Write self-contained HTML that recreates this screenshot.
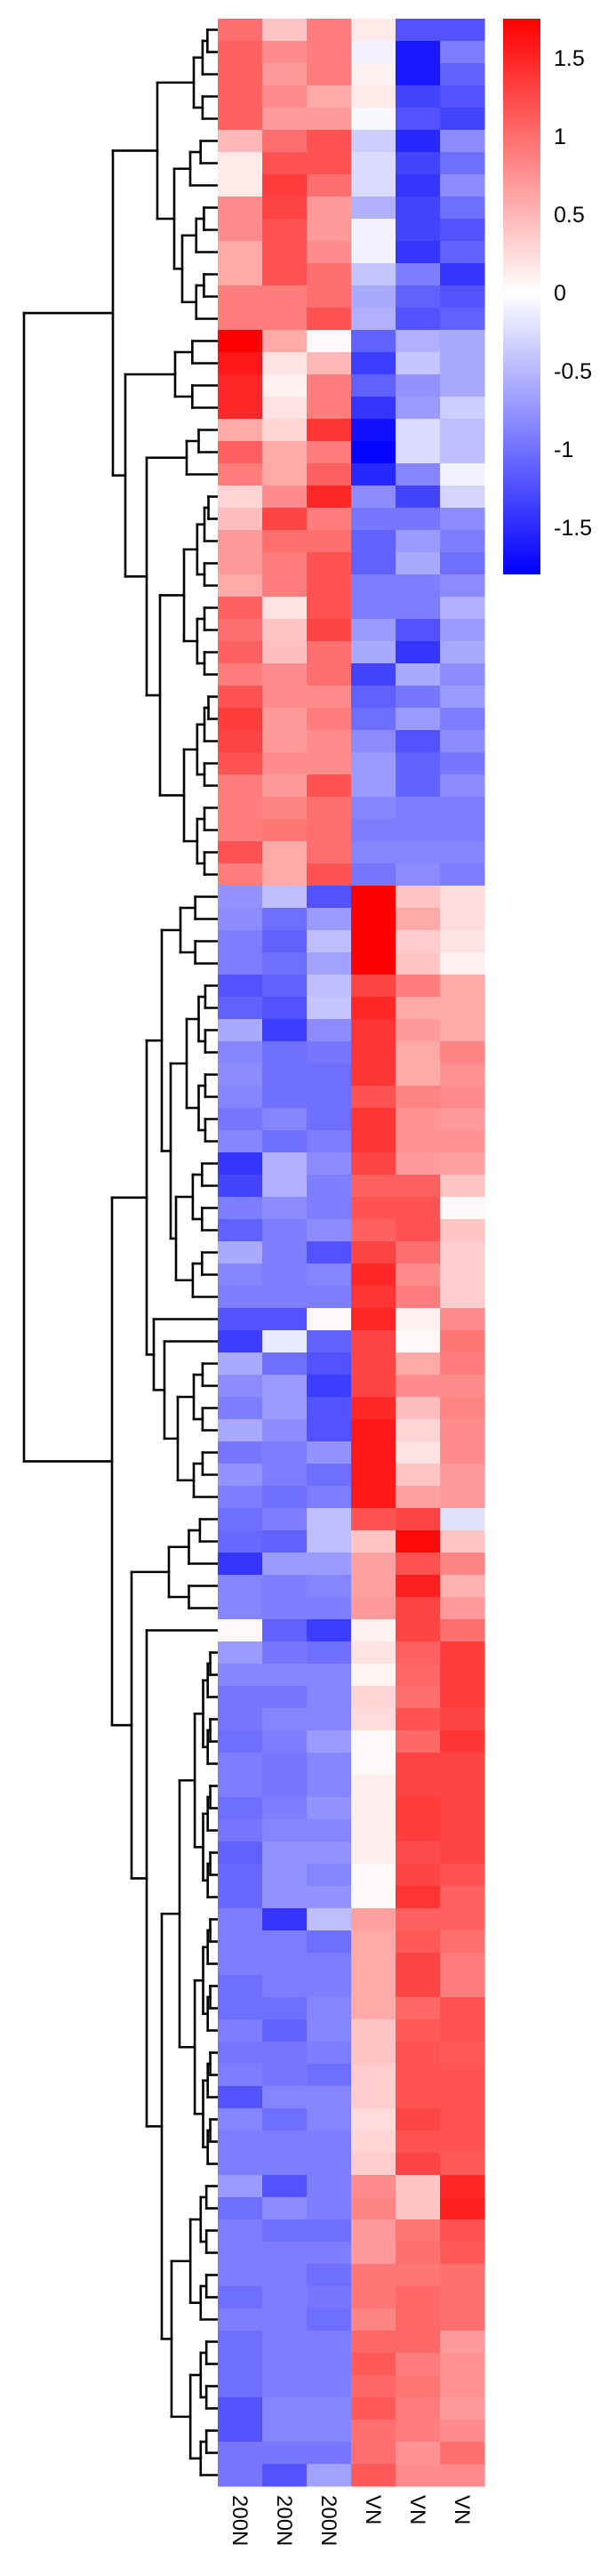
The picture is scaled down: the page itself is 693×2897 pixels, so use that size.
<!DOCTYPE html>
<html><head><meta charset="utf-8"><style>
html,body{margin:0;padding:0;background:#fff;}
svg{display:block;font-family:"Liberation Sans",sans-serif;}
</style></head><body>
<svg id="chart" width="693" height="2897" viewBox="0 0 693 2897" xmlns="http://www.w3.org/2000/svg">
<defs><linearGradient id="cbg" x1="0" y1="0" x2="0" y2="1">
<stop offset="0" stop-color="rgb(255,0,0)"/>
<stop offset="0.493" stop-color="#fff"/>
<stop offset="1" stop-color="rgb(0,0,255)"/>
</linearGradient></defs>
<g id="dendro"></g>
<g id="cells"></g>
<g id="collabels"></g>
<g id="legend"></g>
</svg>
<script>
const columns = ["200N","200N","200N","VN","VN","VN"];
const colA1 = [1.0,1.1,1.1,1.1,1.1,0.5,0.15,0.15,0.8,0.8,0.6,0.6,0.9,0.9,1.77,1.6,1.5,1.5,0.6,1.1,0.9,0.3,0.45,0.7,0.7,0.6,1.1,1.0,1.1,0.9,1.2,1.35,1.3,1.2,0.9,0.9,0.9,1.2,0.9,
-0.75,-0.8,-0.9,-0.9,-1.2,-1.1,-0.6,-0.85,-0.8,-0.85,-0.95,-0.85,-1.4,-1.3,-0.9,-1.1,-0.6,-0.85,-0.9,-1.2,-1.35,-0.6,-0.8,-0.9,
-0.6,-0.95,-0.75,-0.9,-1.0,-1.05,-1.4,-0.85,-0.85,0.05,-0.7,-0.85,-0.95,-0.95,-1.0,-0.9,-0.9,-1.0,-0.95,-1.1,-1.05,-1.05,-0.9,-0.9,
-0.9,-1.0,-1.0,-0.9,-0.95,-0.9,-1.2,-0.85,-0.9,-0.9,-0.7,-1.0,-0.9,-0.9,-0.9,-1.0,-0.9,-1.0,-1.0,-1.0,-1.2,-1.2,-0.95,-0.95];
const colA2 = [0.4,0.8,0.7,0.8,0.7,1.0,1.2,1.35,1.3,1.2,1.2,1.2,0.9,0.9,0.6,0.2,0.1,0.2,0.3,0.6,0.6,0.8,1.3,1.0,0.9,0.9,0.2,0.4,0.45,0.8,0.8,0.7,0.7,0.8,0.7,0.85,0.95,0.6,0.6,
-0.45,-1.0,-1.1,-1.0,-1.1,-1.2,-1.35,-1.0,-1.0,-1.0,-0.85,-1.0,-0.55,-0.55,-0.8,-0.9,-0.9,-0.9,-0.9,-1.2,-0.15,-1.0,-0.7,-0.7,
-0.8,-0.9,-0.9,-1.0,-0.9,-1.1,-0.7,-0.9,-0.9,-1.1,-0.95,-0.85,-0.95,-0.85,-0.9,-0.95,-0.95,-0.9,-0.85,-0.75,-0.75,-0.75,-1.4,-0.9,
-0.9,-0.9,-1.0,-1.1,-0.95,-0.95,-0.85,-1.0,-0.9,-0.9,-1.2,-0.8,-1.0,-0.9,-0.9,-0.9,-0.9,-0.9,-0.9,-0.9,-0.85,-0.85,-0.95,-1.2];
const colA3 = [0.9,0.9,0.9,0.6,0.7,1.2,1.2,1.0,0.7,0.7,0.8,1.0,1.0,1.2,0.05,0.5,0.9,0.9,1.4,0.9,1.1,1.5,0.9,1.0,1.2,1.2,1.2,1.3,1.0,1.0,0.8,0.9,0.8,0.8,1.2,1.0,1.0,1.0,1.2,
-1.2,-0.7,-0.45,-0.65,-0.45,-0.4,-0.8,-0.95,-1.0,-1.0,-1.0,-0.9,-0.8,-0.9,-0.9,-0.8,-1.2,-0.85,-0.9,0.05,-1.1,-1.2,-1.35,-1.2,
-1.2,-0.75,-1.0,-0.9,-0.45,-0.45,-0.7,-0.85,-0.9,-1.35,-1.0,-0.85,-0.85,-0.85,-0.7,-0.85,-0.85,-0.75,-0.85,-0.75,-0.85,-0.75,-0.45,-1.0,
-0.9,-0.9,-0.85,-0.85,-0.9,-1.0,-0.85,-0.85,-0.9,-0.9,-0.9,-0.9,-1.0,-0.9,-1.0,-0.95,-1.0,-0.9,-0.9,-0.9,-0.85,-0.85,-0.95,-0.65];
const colV1 = [0.15,-0.1,0.1,0.15,-0.05,-0.35,-0.25,-0.25,-0.55,-0.1,-0.1,-0.4,-0.6,-0.55,-1.1,-1.35,-1.1,-1.4,-1.65,-1.75,-1.5,-0.8,-0.95,-1.1,-1.1,-0.9,-0.9,-0.7,-0.6,-1.3,-1.1,-1.0,-0.8,-0.7,-0.7,-0.85,-0.9,-0.85,-0.95,
1.77,1.77,1.77,1.77,1.3,1.5,1.4,1.4,1.4,1.2,1.4,1.4,1.3,1.1,1.2,1.1,1.3,1.5,1.4,1.5,1.3,1.3,1.3,1.5,
1.6,1.6,1.6,1.6,1.2,0.4,0.65,0.65,0.7,0.1,0.2,0.08,0.3,0.25,0.05,0.05,0.12,0.12,0.12,0.12,0.05,0.05,0.65,0.6,
0.6,0.6,0.6,0.4,0.4,0.35,0.35,0.25,0.3,0.35,0.8,0.85,0.7,0.7,0.95,0.95,0.85,1.05,1.15,1.05,1.15,1.0,1.0,1.15];
const colV2 = [-1.2,-1.6,-1.6,-1.3,-1.2,-1.5,-1.3,-1.4,-1.3,-1.3,-1.4,-0.9,-1.1,-1.2,-0.55,-0.4,-0.75,-0.7,-0.25,-0.25,-0.85,-1.3,-0.95,-0.7,-0.6,-0.9,-0.9,-1.2,-1.4,-0.6,-0.95,-0.7,-1.2,-1.1,-1.1,-0.9,-0.9,-0.85,-0.8,
0.4,0.6,0.35,0.4,0.9,0.6,0.7,0.6,0.6,0.85,0.75,0.75,0.7,1.1,1.2,1.2,1.0,0.8,0.9,0.1,0.05,0.6,0.8,0.45,
0.3,0.2,0.4,0.65,1.3,1.7,1.2,1.55,1.3,1.3,1.1,1.05,1.0,1.2,1.05,1.3,1.3,1.35,1.35,1.25,1.3,1.4,1.1,1.15,
1.3,1.3,1.05,1.15,1.2,1.2,1.2,1.3,1.2,1.3,0.4,0.4,0.95,1.0,0.95,1.05,1.05,1.05,0.9,0.95,0.9,0.9,0.75,0.8];
const colV3 = [-1.2,-0.9,-1.1,-1.2,-1.3,-0.8,-1.0,-0.8,-1.0,-1.2,-1.1,-1.4,-1.2,-1.1,-0.6,-0.6,-0.6,-0.35,-0.45,-0.45,-0.1,-0.3,-0.8,-0.9,-1.0,-0.8,-0.55,-0.7,-0.6,-0.8,-0.7,-0.9,-0.8,-0.95,-0.8,-0.9,-0.9,-0.85,-0.9,
0.25,0.25,0.2,0.1,0.6,0.6,0.6,0.85,0.75,0.8,0.7,0.75,0.65,0.4,0.05,0.4,0.35,0.35,0.35,0.8,0.95,0.9,0.8,0.85,
0.8,0.8,0.7,0.7,-0.2,0.4,0.85,0.55,0.7,1.0,1.35,1.35,1.35,1.3,1.4,1.3,1.3,1.3,1.3,1.3,1.2,1.1,1.1,1.0,
0.9,0.9,1.2,1.2,1.15,1.2,1.2,1.2,1.2,1.15,1.5,1.55,1.2,1.15,1.0,1.0,1.0,0.7,0.75,0.75,0.7,0.8,1.0,0.8];
const series = [colA1,colA2,colA3,colV1,colV2,colV3];
const legendTicks = [1.5,1,0.5,0,-0.5,-1,-1.5];
const legendLabels = ["1.5","1","0.5","0","-0.5","-1","-1.5"];

const NS="http://www.w3.org/2000/svg";
const X0=245, Y0=21, CW=50, RH=25, VMAX=1.77;
const LTOP=21, LBOT=646, LMAX=1.75, LMIN=-1.80;
function xCol(j){return X0+j*CW;}
function yRow(i){return Y0+i*RH;}
function color(v){
  const t=Math.min(1,Math.abs(v)/VMAX); const c=Math.round(255*(1-t));
  return v>=0?`rgb(255,${c},${c})`:`rgb(${c},${c},255)`;
}
function yLegend(v){return LTOP+(LMAX-v)/(LMAX-LMIN)*(LBOT-LTOP);}
function mk(tag,attrs,parent){const e=document.createElementNS(NS,tag);for(const k in attrs)e.setAttribute(k,attrs[k]);parent.appendChild(e);return e;}

const cells=document.getElementById('cells');
series.forEach((col,j)=>col.forEach((v,i)=>{
  const r=mk('rect',{x:xCol(j),y:yRow(i),width:CW+0.5,height:RH+0.5,fill:color(v)},cells);
  
  
}));

const cl=document.getElementById('collabels');
columns.forEach((c,j)=>{
  const t=mk('text',{transform:`translate(${xCol(j)+CW/2-8},2806) rotate(90)`,'font-size':24,fill:'#000'},cl);
  t.textContent=c;
  
  
});

const lg=document.getElementById('legend');
const bar=mk('rect',{x:566,y:LTOP,width:42,height:LBOT-LTOP,fill:'url(#cbg)'},lg);


legendTicks.forEach((v,k)=>{
  const t=mk('text',{x:623,y:yLegend(v)+9,'font-size':25,fill:'#000'},lg);
  t.textContent=legendLabels[k];
  
  
});

function build(lo,hi,x){
  if(lo===hi) return lo;
  const m=Math.floor((lo+hi)/2);
  const cx=x+(240-x)*0.45;
  return [x,build(lo,m,cx),build(m+1,hi,cx)];
}
const tree=[27,
  [127,
    [177, build(0,4,218), [196, build(5,7,214), build(8,13,205)]],
    [141, build(14,17,197), [165, build(18,20,210), build(21,38,180)]]
  ],
  [126,
    [165, [182, build(39,42,203), [192, build(43,50,210), build(51,57,198)]],
          [173, 58, [185, 59, build(60,66,200)]]],
    [148, build(67,71,190),
      [165, 72, [182, build(73,96,202), build(97,110,193)]]]
  ]
];
const dg=document.getElementById('dendro');
function line(x1,y1,x2,y2){
  const l=mk('line',{x1,y1,x2,y2,stroke:'#000','stroke-width':2.6,'stroke-linecap':'square'},dg);
  
  
}
function draw(n){
  if(typeof n==='number') return {x:X0,y:yRow(n)+RH/2};
  const a=draw(n[1]), b=draw(n[2]), x=n[0];
  line(x,a.y,a.x,a.y); line(x,b.y,b.x,b.y); line(x,a.y,x,b.y);
  return {x,y:(a.y+b.y)/2};
}
draw(tree);
</script>
</body></html>
